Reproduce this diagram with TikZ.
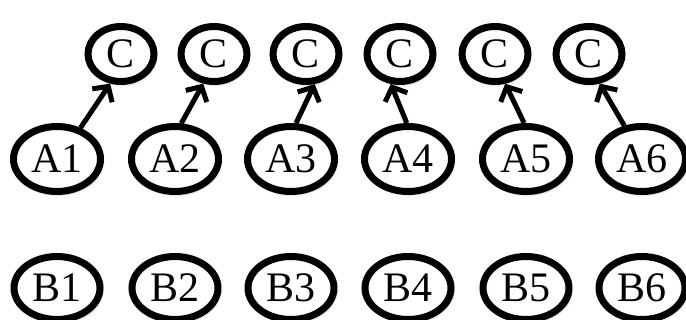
\documentclass[tikz,border=0pt]{standalone}
\usepackage{fontspec}
\setmainfont{Liberation Serif}
\usetikzlibrary{shapes.geometric,arrows.meta,shadows.blur}
\tikzset{
  bubble/.style={ellipse, draw=black, line width=7pt, fill=white, inner sep=0pt,
    font=\fontsize{42}{42}\selectfont,
    blur shadow={shadow xshift=1.5pt, shadow yshift=-2.5pt, shadow blur steps=8, shadow blur radius=3pt, shadow opacity=35}},
  cnode/.style={bubble, minimum width=66pt, minimum height=55pt},
  anode/.style={bubble, minimum width=87pt, minimum height=65pt},
  bnode/.style={bubble, minimum width=86pt, minimum height=63pt},
  link/.style={line width=5pt, -{Straight Barb[length=11pt, width=24pt, line width=5pt]}}
}
\begin{document}
\begin{tikzpicture}[x=1pt,y=-1pt]
\useasboundingbox (0,0) rectangle (686,320);
\foreach \i/\x in {1/121,2/214,3/306,4/400,5/495,6/589}{
  \node[cnode] (C\i) at (\x,54) {C};
}
\foreach \i/\x in {1/57,2/175,3/291,4/408,5/526,6/642}{
  \node[anode] (A\i) at (\x,159) {A\i};
  \node[bnode] (B\i) at (\x,288) {B\i};
}
\draw[link] (A1.53) -- (C1.250);
\draw[link] (A2.80) -- (C2.250);
\draw[link] (A3.82) -- (C3.286);
\draw[link] (A4.92) -- (C4.253);
\draw[link] (A5.93) -- (C5.289);
\draw[link] (A6.118) -- (C6.290);
\end{tikzpicture}
\end{document}
